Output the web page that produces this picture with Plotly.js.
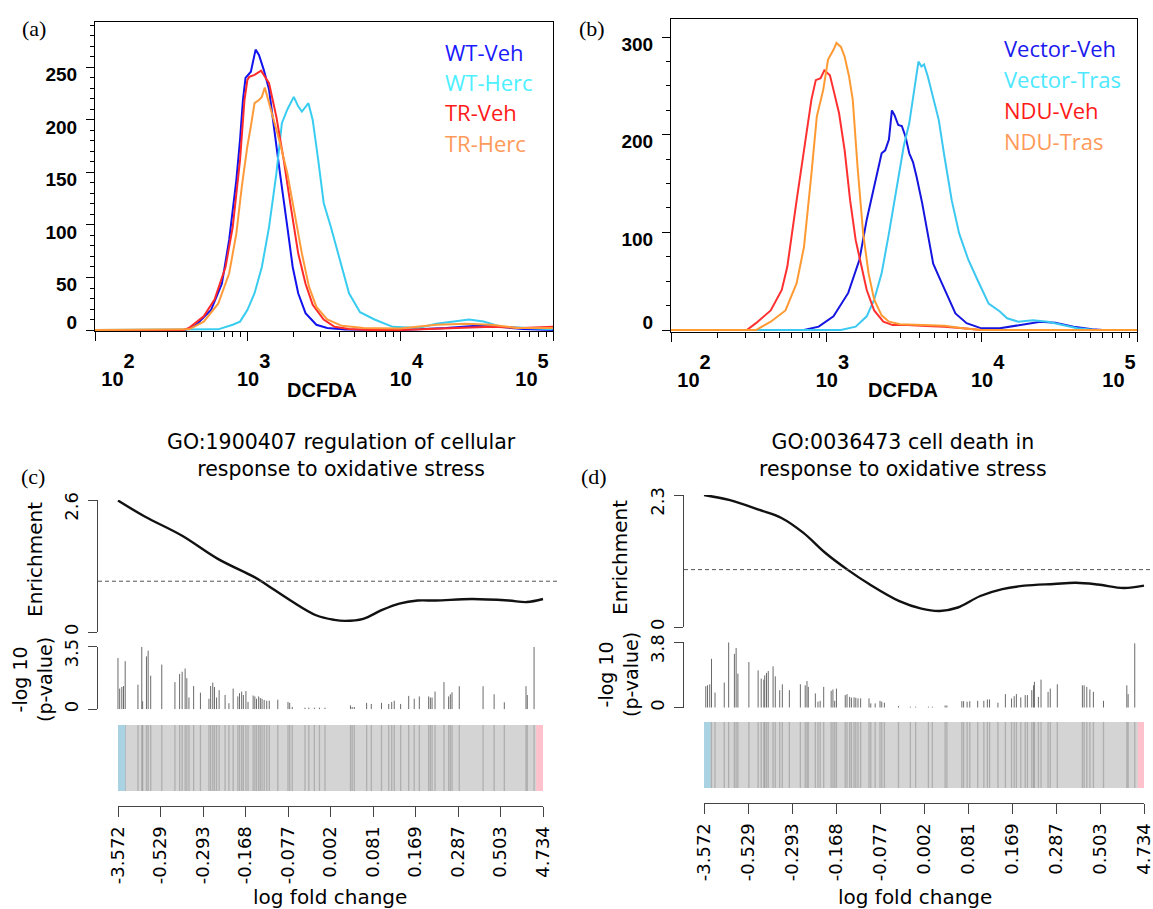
<!DOCTYPE html>
<html><head><meta charset="utf-8">
<script src="https://cdn.plot.ly/plotly-3.0.1.min.js"></script>
<style>html,body{margin:0;padding:0;background:#fff}#chart{width:1153px;height:909px}</style>
</head><body><div id="chart"></div>
<script>
// ---------------- DATA ----------------
// Panel (a): flow histograms, x = log10(DCFDA), y = count
const aWTVehLog   = [2.00,2.55,2.593,2.664,2.76,2.831,2.879,2.926,2.95,2.969,2.986,3.021,3.052,3.074,3.105,3.14,3.176,3.212,3.26,3.295,3.331,3.379,3.45,3.521,3.64,4.00,4.30,4.50,4.65,4.80,5.00];
const aWTVehCount = [0,0,0,5,19,44,86,143,181,219,240,246,267,262,248,229,187,149,98,60,35,16,5,2,0.5,0,2,4,3,1,0];
const aWTHercLog   = [2.00,2.75,2.807,2.902,2.95,2.998,3.045,3.093,3.14,3.188,3.224,3.26,3.302,3.331,3.355,3.398,3.426,3.462,3.498,3.545,3.605,3.664,3.736,3.831,3.95,4.117,4.236,4.355,4.45,4.545,4.664,4.831,4.998];
const aWTHercCount = [0,0,0.6,5,8,19,35,60,98,149,197,210,222,213,208,216,200,162,121,98,67,35,17,10,3,2,6,8,10,8,3,2,0.6];
const aTRVehLog   = [2.00,2.58,2.617,2.712,2.783,2.855,2.902,2.95,2.979,2.998,3.01,3.045,3.088,3.14,3.188,3.236,3.283,3.331,3.379,3.426,3.498,3.569,3.664,3.80,4.00,4.40,4.60,4.80,5.00];
const aTRVehCount = [0,0,2,13,29,60,98,162,219,238,241,243,247,235,203,162,117,73,44,24,10,3,1,0,0,2,3,2,3];
const aTRHercLog   = [2.00,2.60,2.617,2.712,2.807,2.879,2.926,2.962,2.998,3.021,3.045,3.074,3.093,3.112,3.14,3.176,3.212,3.26,3.307,3.355,3.402,3.45,3.521,3.617,3.76,3.998,4.236,4.426,4.593,4.76,4.998];
const aTRHercCount = [0,0,0.6,8,25,54,92,137,175,194,216,219,222,231,216,197,178,149,111,73,41,22,10,4,2,1.5,5,6,5,2,2];

// Panel (b)
const bVecVehLog   = [2.00,2.80,2.856,2.951,3.046,3.141,3.213,3.26,3.308,3.356,3.379,3.403,3.422,3.439,3.463,3.486,3.51,3.534,3.558,3.581,3.617,3.653,3.688,3.724,3.772,3.831,3.903,3.998,4.117,4.235,4.378,4.473,4.592,4.711,4.78,5.00];
const bVecVehCount = [0,0,0,3.4,14,38,72,113,147,181,184,195,225,220,210,209,198,181,172,157,130,99,68,55,38,17,7,1.7,1.7,5,8.5,7.5,3.4,0.7,0,0];
const bVecTrasLog   = [2.00,3.05,3.094,3.189,3.26,3.308,3.356,3.403,3.451,3.498,3.534,3.57,3.593,3.612,3.629,3.653,3.688,3.724,3.76,3.807,3.855,3.914,3.974,4.045,4.117,4.164,4.235,4.331,4.426,4.521,4.616,4.735,5.00];
const bVecTrasCount = [0,0,0,3.4,14,31,58,99,143,188,212,253,275,270,272,260,239,215,178,133,99,72,51,27,19,12,8.5,10,8.5,5,1.7,0,0];
const bNDUVehLog   = [2.00,2.45,2.488,2.547,2.642,2.713,2.749,2.809,2.856,2.904,2.932,2.963,2.987,3.023,3.046,3.082,3.118,3.153,3.189,3.225,3.26,3.308,3.367,3.427,3.522,3.641,3.76,3.879,3.998,5.00];
const bNDUVehCount = [0,0,0,7,20,41,65,133,184,236,256,258,266,261,246,222,184,133,92,65,41,20,8.5,5,5,4,3.4,1.7,0,0];
const bNDUTrasLog   = [2.00,2.50,2.547,2.642,2.737,2.809,2.856,2.904,2.939,2.98,3.011,3.046,3.065,3.094,3.118,3.146,3.17,3.201,3.237,3.272,3.308,3.356,3.403,3.474,3.641,3.76,3.879,3.998,5.00];
const bNDUTrasCount = [0,0,0,8.5,20,48,85,160,219,246,277,287,294,290,280,260,236,167,99,58,31,15,8.5,6,5,4.4,1.7,0,0];

const aLegend = ['WT-Veh','WT-Herc','TR-Veh','TR-Herc'];
const bLegend = ['Vector-Veh','Vector-Tras','NDU-Veh','NDU-Tras'];
const flowTickVals = [100, 1000, 10000, 100000];
const flowTickExp = ['2','3','4','5'];
const aYTicks = [0,50,100,150,200,250];
const bYTicks = [0,100,200,300];

// Panels (c),(d): gene-set enrichment; x = gene rank fraction
const cTitle = 'GO:1900407 regulation of cellular<br>response to oxidative stress';
const dTitle = 'GO:0036473 cell death in<br>response to oxidative stress';
const cEnrRank  = [0,0.064,0.150,0.235,0.321,0.346,0.406,0.466,0.509,0.534,0.577,0.620,0.662,0.705,0.748,0.833,0.919,0.962,1.0];
const cEnrValue = [2.59,2.27,1.90,1.44,1.08,0.95,0.62,0.33,0.24,0.22,0.26,0.43,0.56,0.62,0.62,0.65,0.62,0.59,0.65];
const dEnrRank  = [0,0.059,0.126,0.176,0.226,0.276,0.326,0.377,0.444,0.494,0.536,0.577,0.628,0.678,0.728,0.795,0.845,0.895,0.954,1.0];
const dEnrValue = [2.30,2.21,2.04,1.90,1.64,1.29,1.00,0.74,0.45,0.32,0.28,0.34,0.54,0.66,0.72,0.75,0.77,0.74,0.68,0.72];
const cGeneRank = [0.000,0.004,0.009,0.013,0.017,0.047,0.056,0.058,0.067,0.071,0.077,0.103,0.134,0.145,0.151,0.158,0.162,0.167,0.178,0.194,0.214,0.218,0.223,0.227,0.232,0.238,0.252,0.261,0.271,0.282,0.286,0.291,0.295,0.301,0.306,0.318,0.322,0.326,0.331,0.335,0.339,0.344,0.350,0.356,0.376,0.400,0.404,0.410,0.440,0.449,0.462,0.474,0.487,0.547,0.551,0.556,0.585,0.596,0.620,0.637,0.644,0.650,0.665,0.684,0.697,0.709,0.731,0.735,0.739,0.746,0.767,0.778,0.782,0.786,0.803,0.859,0.885,0.909,0.960,0.963,0.979];
const cGenePval = [2.87,1.16,1.25,1.30,2.69,1.38,3.50,0.45,2.96,3.28,1.88,2.50,1.52,1.97,2.10,2.28,1.74,0.66,1.30,0.93,0.59,1.30,1.49,1.25,0.66,1.07,0.80,0.34,1.16,0.72,0.90,0.99,0.80,1.02,0.41,0.77,0.72,0.59,0.72,0.63,0.59,0.52,0.48,0.48,0.54,0.41,0.36,0.13,0.09,0.09,0.09,0.09,0.09,0.22,0.13,0.13,0.36,0.30,0.36,0.30,0.41,0.48,0.30,0.75,0.59,0.72,0.72,0.66,0.66,0.99,1.52,0.72,0.84,0.95,1.29,1.29,0.84,0.39,1.29,0.80,3.50];
const dGeneRank = [0.004,0.008,0.013,0.017,0.025,0.046,0.056,0.069,0.073,0.077,0.102,0.123,0.130,0.136,0.138,0.142,0.146,0.157,0.162,0.172,0.178,0.194,0.219,0.230,0.234,0.237,0.253,0.259,0.264,0.272,0.289,0.293,0.297,0.301,0.321,0.325,0.331,0.335,0.341,0.345,0.350,0.356,0.375,0.379,0.389,0.400,0.404,0.410,0.442,0.469,0.481,0.510,0.519,0.548,0.552,0.586,0.590,0.598,0.604,0.622,0.636,0.644,0.649,0.668,0.685,0.699,0.705,0.710,0.720,0.730,0.735,0.745,0.749,0.751,0.760,0.766,0.782,0.787,0.803,0.860,0.864,0.870,0.877,0.885,0.908,0.961,0.964,0.979];
const dGenePval = [1.25,1.30,1.36,2.84,0.88,1.46,3.80,3.13,3.47,1.98,2.65,2.17,1.69,1.63,1.88,2.02,2.13,2.40,1.82,1.02,1.36,1.02,1.36,1.30,1.55,1.21,0.83,0.35,0.40,1.21,0.98,1.06,0.40,1.11,0.73,0.79,0.63,0.58,0.60,0.58,0.54,0.54,0.54,0.25,0.25,0.40,0.35,0.29,0.10,0.06,0.06,0.06,0.06,0.13,0.13,0.38,0.38,0.35,0.38,0.40,0.40,0.48,0.48,0.29,0.79,0.54,0.67,0.79,0.60,0.73,0.73,1.02,1.30,1.50,0.63,1.63,0.92,1.11,1.36,1.30,1.30,1.21,1.06,0.92,0.40,1.30,0.79,3.74];
const cBandStart = [0, 0, 0.984], cBandEnd = [1, 0.017, 1];
const dBandStart = [0, 0, 0.986], dBandEnd = [1, 0.015, 1];
const bandColors = ['#d4d4d4', '#a9d3e2', '#ffc1cc'];
const enrichNull = 1;
const enrichAxisMax = [2.6, 2.3];   // (c), (d)
const pvalAxisMax = [3.5, 3.8];     // (c), (d)
const rankTicks = [0,0.1,0.2,0.3,0.4,0.5,0.6,0.7,0.8,0.9,1];
const lfcTickText = ['-3.572','-0.529','-0.293','-0.168','-0.077','0.002','0.081','0.169','0.287','0.503','4.734'];

// ---------------- HELPERS ----------------
const W = 1153, H = 909;
const px = v => v / W;
const py = v => 1 - v / H;
const LS = 'Liberation Sans, Arial, sans-serif';
const DJ = 'DejaVu Sans, sans-serif';
const flowColorsA = ['#1212ee', '#38cdf0', '#ff2a2a', '#ff9a3a'];
const legColorsA  = ['#1a1aff', '#4cf0ff', '#ff1a1a', '#ff9a5a'];
const flowColorsB = ['#1515e0', '#3cc8f0', '#ff3030', '#ff9a33'];
const legColorsB  = ['#1a1aee', '#4ce8ff', '#ff1a1a', '#ff9a5a'];

function flowTrace(logs, counts, color, xa, ya) {
  return {type:'scatter', mode:'lines', x: logs.map(v => Math.pow(10, v)), y: counts,
    line:{color, width:2}, xaxis:xa, yaxis:ya, hoverinfo:'skip', showlegend:false};
}
function stems(xs, ys, xa, ya, color, width) {
  const X = [], Y = [];
  xs.forEach((x, i) => { X.push(x, x, null); Y.push(0, ys[i], null); });
  return {type:'scatter', mode:'lines', x:X, y:Y, line:{color, width}, xaxis:xa, yaxis:ya, hoverinfo:'skip', showlegend:false, connectgaps:false};
}
function fullLines(xs, xa, ya) {
  const X = [], Y = [];
  xs.forEach(x => { X.push(x, x, null); Y.push(0, 1, null); });
  return {type:'scatter', mode:'lines', x:X, y:Y, line:{color:'rgba(60,60,60,0.24)', width:1.3}, xaxis:xa, yaxis:ya, hoverinfo:'skip', showlegend:false};
}
// colour bands of the rank bar (filled rectangles spanning the band's rank interval)
function band(starts, ends, i, xa, ya) {
  const s = starts[i], e = ends[i];
  return {type:'scatter', mode:'none', x:[s, e, e, s, s], y:[0, 0, 1, 1, 0], fill:'toself', fillcolor:bandColors[i],
    xaxis:xa, yaxis:ya, hoverinfo:'skip', showlegend:false};
}
// placeholder so that label-only overlay axes are registered
function anchorOnly(xa, ya) {
  return {type:'scatter', mode:'lines', x:[null], y:[null], xaxis:xa, yaxis:ya, hoverinfo:'skip', showlegend:false};
}

// "10" with a full-size raised exponent, as one text
const flowTickText = flowTickExp.map(e => '10<span style="baseline-shift:18px">' + e + '</span>');
const flowTickFont = {family:LS, size:19, color:'#000', weight:'bold'};
const flowXTickFont = {family:LS, size:20, color:'#000', weight:'bold'};

function flowX(dom, anchor, vals, text) {
  return {type:'log', range:[2,5], domain:dom, anchor, showline:true, linecolor:'#000', linewidth:1, mirror:true,
    ticks:'outside', ticklen:9, tickwidth:1, tickcolor:'#000', tickmode:'array', tickvals:vals, ticktext:text,
    tickfont:flowXTickFont, ticklabelstandoff:21, ticklabelshift:6, ticklabeloverflow:'allow',
    minor:{dtick:'D1', ticks:'outside', ticklen:5, tickwidth:1, tickcolor:'#000', showgrid:false},
    showgrid:false, zeroline:false, automargin:false};
}
function flowXEnd(base, anchor, i, shift) {
  return {type:'log', range:[2,5], overlaying:base, anchor, side:'bottom', tickmode:'array',
    tickvals:[flowTickVals[i]], ticktext:[flowTickText[i]], ticks:'outside', ticklen:9, tickcolor:'rgba(0,0,0,0)',
    tickfont:flowXTickFont, ticklabelstandoff:21, ticklabelshift:shift,
    ticklabeloverflow:'allow', showline:false, showgrid:false, zeroline:false, automargin:false};
}
function flowY(dom, anchor, range, vals, minorStep) {
  return {range, domain:dom, anchor, showline:true, linecolor:'#000', linewidth:1, mirror:true,
    ticks:'outside', ticklen:8, tickwidth:1, tickcolor:'#000', tickmode:'array', tickvals:vals,
    ticktext: vals.map(v => v === 0 ? '' : String(v)), tickfont:flowTickFont, ticklabelshift:7, ticklabelstandoff:5,
    ticklabeloverflow:'allow',
    minor:{tick0:0, dtick:minorStep, ticks:'outside', ticklen:4, tickwidth:1, tickcolor:'#000', showgrid:false},
    showgrid:false, zeroline:false, automargin:false};
}
function flowZero(base, anchor, range) {
  return {overlaying:base, anchor, side:'left', range, tickmode:'array', tickvals:[0], ticktext:['0'],
    ticks:'outside', ticklen:8, tickcolor:'rgba(0,0,0,0)', tickfont:flowTickFont, ticklabelshift:-8, ticklabelstandoff:5,
    ticklabeloverflow:'allow', showline:false, showgrid:false, zeroline:false, automargin:false};
}
function hiddenX(dom, range, anchor) { return {domain:dom, range, anchor, visible:false, fixedrange:true}; }
function rBase(dom, anchor, top) {
  return {range:[0, top], domain:dom, anchor, showline:true, linecolor:'#444', linewidth:1,
    ticks:'outside', ticklen:9, tickwidth:1, tickcolor:'#444', tickmode:'array', tickvals:[0, top], ticktext:['0', ''],
    tickangle:-90, tickfont:{family:DJ, size:18, color:'#000'}, ticklabelstandoff:3, ticklabeloverflow:'allow',
    showgrid:false, zeroline:false, automargin:false};
}
function rTop(base, anchor, top) {
  return {overlaying:base, anchor, side:'left', range:[0, top], tickmode:'array', tickvals:[top], ticktext:[top.toFixed(1)],
    ticks:'outside', ticklen:9, tickcolor:'rgba(0,0,0,0)', tickangle:-90, tickfont:{family:DJ, size:18, color:'#000'},
    ticklabelshift:9, ticklabelstandoff:3, ticklabeloverflow:'allow', showline:false, showgrid:false, zeroline:false, automargin:false};
}
function lfcAxis(dom, pos) {
  return {domain:dom, range:[0,1], anchor:'free', position:pos, showline:true, linecolor:'#444', linewidth:1,
    ticks:'outside', ticklen:10, tickwidth:1, tickcolor:'#444', tickmode:'array', tickvals:rankTicks, ticktext:lfcTickText,
    tickangle:-90, tickfont:{family:DJ, size:18, color:'#000'}, ticklabelstandoff:2, ticklabeloverflow:'allow',
    showgrid:false, zeroline:false, automargin:false};
}
function bandY(dom, anchor) { return {domain:dom, range:[0,1], anchor, visible:false, fixedrange:true}; }

// ---------------- TRACES ----------------
const traces = [
  flowTrace(aWTVehLog, aWTVehCount, flowColorsA[0], 'x', 'y'),
  flowTrace(aWTHercLog, aWTHercCount, flowColorsA[1], 'x', 'y'),
  flowTrace(aTRVehLog, aTRVehCount, flowColorsA[2], 'x', 'y'),
  flowTrace(aTRHercLog, aTRHercCount, flowColorsA[3], 'x', 'y2'),
  anchorOnly('x7', 'y'), anchorOnly('x8', 'y'),
  flowTrace(bVecVehLog, bVecVehCount, flowColorsB[0], 'x2', 'y3'),
  flowTrace(bVecTrasLog, bVecTrasCount, flowColorsB[1], 'x2', 'y3'),
  flowTrace(bNDUVehLog, bNDUVehCount, flowColorsB[2], 'x2', 'y3'),
  flowTrace(bNDUTrasLog, bNDUTrasCount, flowColorsB[3], 'x2', 'y4'),
  anchorOnly('x9', 'y3'), anchorOnly('x10', 'y3'),
  {type:'scatter', mode:'lines', x:cEnrRank, y:cEnrValue, line:{color:'#111', width:2.4, shape:'spline', smoothing:1}, xaxis:'x3', yaxis:'y5', hoverinfo:'skip', showlegend:false},
  anchorOnly('x3', 'y6'),
  stems(cGeneRank, cGenePval, 'x3', 'y7', '#6a6a6a', 1),
  anchorOnly('x3', 'y8'),
  band(cBandStart, cBandEnd, 0, 'x4', 'y9'),
  fullLines(cGeneRank, 'x4', 'y9'),
  band(cBandStart, cBandEnd, 1, 'x4', 'y9'),
  band(cBandStart, cBandEnd, 2, 'x4', 'y9'),
  {type:'scatter', mode:'lines', x:dEnrRank, y:dEnrValue, line:{color:'#111', width:2.4, shape:'spline', smoothing:1}, xaxis:'x5', yaxis:'y10', hoverinfo:'skip', showlegend:false},
  anchorOnly('x5', 'y11'),
  stems(dGeneRank, dGenePval, 'x5', 'y12', '#6a6a6a', 1),
  anchorOnly('x5', 'y13'),
  band(dBandStart, dBandEnd, 0, 'x6', 'y14'),
  fullLines(dGeneRank, 'x6', 'y14'),
  band(dBandStart, dBandEnd, 1, 'x6', 'y14'),
  band(dBandStart, dBandEnd, 2, 'x6', 'y14')
];

// ---------------- ANNOTATIONS ----------------
const ann = [];
function note(text, x, y, font, extra) {
  ann.push(Object.assign({text, x:px(x), y:py(y), xref:'paper', yref:'paper', xanchor:'center', yanchor:'middle', showarrow:false, font}, extra || {}));
}
const serif = {family:'Liberation Serif, Times New Roman, serif', size:22, color:'#000'};
[['(a)',34,28],['(b)',592,28],['(c)',33,476],['(d)',594,476]].forEach(([t,x,y]) => note(t, x, y, serif));
aLegend.forEach((t, i) => note(t, 443, [52,82,112,143][i], {family:'Open Sans, sans-serif', size:22, color:legColorsA[i]}, {xanchor:'left'}));
bLegend.forEach((t, i) => note(t, 1002, [48,79,110,141][i], {family:'Open Sans, sans-serif', size:22, color:legColorsB[i]}, {xanchor:'left'}));
[322, 903].forEach(x => note('DCFDA', x, 390, {family:LS, size:20, color:'#000', weight:'bold'}));
note(cTitle, 341, 456, {family:DJ, size:20.5, color:'#000'});
note(dTitle, 903, 456, {family:DJ, size:20.5, color:'#000'});
[[35,560],[620,558]].forEach(([x,y]) => note('Enrichment', x, y, {family:DJ, size:20, color:'#000'}, {textangle:-90}));
[[32,680],[618,675]].forEach(([x,y]) => note('-log 10<br>(p-value)', x, y, {family:DJ, size:19, color:'#000'}, {textangle:-90}));
[330, 915].forEach(x => note('log fold change', x, 897, {family:DJ, size:20, color:'#000'}));

const midText = flowTickText.map((t, i) => (i === 0 || i === flowTickText.length - 1) ? '' : t);
const dash = {color:'#555', width:1, dash:'4px,3px'};
const layout = {
  width:W, height:H, margin:{l:0,r:0,t:0,b:0}, paper_bgcolor:'#fff', plot_bgcolor:'rgba(0,0,0,0)',
  showlegend:false, hovermode:false, dragmode:false,
  xaxis: flowX([px(95), px(553)], 'y', flowTickVals, midText),
  yaxis: flowY([py(331), py(22)], 'x', [-0.95, 293.3], aYTicks, 10),
  yaxis2: flowZero('y', 'x', [-0.95, 293.3]),
  xaxis7: flowXEnd('x', 'y', 0, 23),
  xaxis8: flowXEnd('x', 'y', 3, -21),
  xaxis2: flowX([px(671), px(1137)], 'y3', flowTickVals, midText),
  yaxis3: flowY([py(332), py(19)], 'x2', [-2.05, 318.6], bYTicks, 25),
  yaxis4: flowZero('y3', 'x2', [-2.05, 318.6]),
  xaxis9: flowXEnd('x2', 'y3', 0, 23),
  xaxis10: flowXEnd('x2', 'y3', 3, -18),
  xaxis3: hiddenX([px(98), px(560)], [-0.047, 1.04], 'y5'),
  yaxis5: rBase([py(632), py(500)], 'x3', enrichAxisMax[0]),
  yaxis6: rTop('y5', 'x3', enrichAxisMax[0]),
  yaxis7: rBase([py(709.3), py(646.7)], 'x3', pvalAxisMax[0]),
  yaxis8: rTop('y7', 'x3', pvalAxisMax[0]),
  xaxis4: lfcAxis([px(118), px(543)], py(806)),
  yaxis9: bandY([py(791), py(725)], 'x4'),
  xaxis5: hiddenX([px(684), 1], [-0.0455, 1.0205], 'y10'),
  yaxis10: rBase([py(627), py(495)], 'x5', enrichAxisMax[1]),
  yaxis11: rTop('y10', 'x5', enrichAxisMax[1]),
  yaxis12: rBase([py(707.7), py(642.3)], 'x5', pvalAxisMax[1]),
  yaxis13: rTop('y12', 'x5', pvalAxisMax[1]),
  xaxis6: lfcAxis([px(704), px(1144)], py(803)),
  yaxis14: bandY([py(788), py(722)], 'x6'),
  shapes: [
    {type:'line', xref:'x3 domain', x0:0, x1:1, yref:'y5', y0:enrichNull, y1:enrichNull, line:dash},
    {type:'line', xref:'x5 domain', x0:0, x1:1, yref:'y10', y0:enrichNull, y1:enrichNull, line:dash}
  ],
  annotations: ann
};
Plotly.newPlot('chart', traces, layout, {staticPlot:true, displayModeBar:false});
</script></body></html>
